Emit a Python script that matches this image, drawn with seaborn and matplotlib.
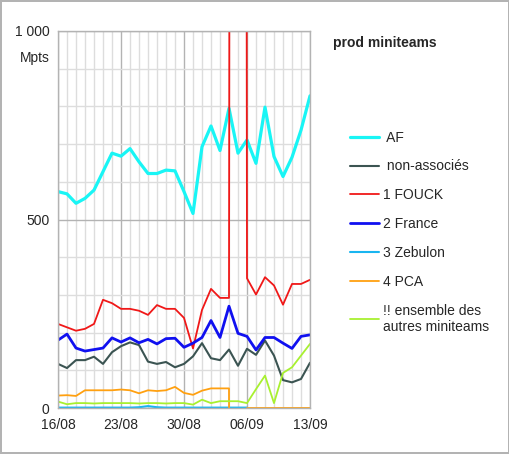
import numpy as np
import pandas as pd
import matplotlib
matplotlib.use("Agg")
import matplotlib.pyplot as plt
from matplotlib.ticker import MultipleLocator, FixedLocator
import seaborn as sns

# Données (une valeur par jour, du 16/08 au 13/09)
jours = list(range(29))
ticks_x = [0, 7, 14, 21, 28]
labels_x = ["16/08", "23/08", "30/08", "06/09", "13/09"]

af = [574, 568, 543, 556, 578, 627, 676, 668, 688, 653, 622, 622, 631, 629, 574,
      516, 693, 748, 683, 795, 676, 711, 649, 798, 667, 614, 665, 737, 828]
non_associes = [117, 106, 127, 127, 136, 117, 148, 164, 174, 167, 123, 117, 122, 108, 117,
                137, 172, 132, 127, 155, 112, 157, 141, 179, 139, 74, 68, 77, 120]
fouck = [223, 214, 205, 210, 223, 287, 278, 263, 263, 258, 247, 273, 263, 263, 239,
         158, 260, 316, 292, 292, 20000, 344, 301, 347, 325, 274, 329, 329, 340]
france = [180, 196, 159, 151, 155, 159, 186, 175, 186, 173, 182, 170, 184, 185, 161,
          172, 187, 232, 187, 270, 198, 190, 154, 187, 187, 172, 158, 190, 194]
zebulon = [1, 1, 1, 1, 1, 1, 1, 1, 1, 2, 5, 2, 1, 1, 1,
           1, 1, 1, 1, 1, 1, 1]
pca = [33, 34, 32, 47, 47, 47, 47, 49, 47, 39, 47, 45, 47, 56, 40,
       35, 46, 52, 52, 52, -20000, 0, 0, 0, 0, 0, 0, 0, 0]
autres = [17, 10, 13, 13, 12, 13, 13, 13, 13, 12, 13, 13, 12, 13, 13,
          9, 22, 13, 18, 18, 18, 13, 50, 86, 13, 93, 108, 139, 170]

series = [
    (" AF", af, "#19f5f5", 2.3),
    (" non-associés", non_associes, "#3b5452", 1.5),
    ("1 FOUCK", fouck, "#f01818", 1.3),
    ("2 France", france, "#1010f0", 2.0),
    ("3 Zebulon", zebulon, "#19b5f0", 1.5),
    ("4 PCA", pca, "#ffa010", 1.3),
    ("!! ensemble des\nautres miniteams", autres, "#a8f030", 1.3),
]

sns.set_style("white")
plt.rcParams["font.family"] = ["Liberation Sans", "DejaVu Sans"]
plt.rcParams["font.size"] = 10

fig = plt.figure(figsize=(5.1, 4.54), dpi=100)
ax = fig.add_axes([58 / 510, 1 - 408 / 454, 252 / 510, 377 / 454])

for nom, valeurs, couleur, lw in series:
    sns.lineplot(x=jours[:len(valeurs)], y=valeurs, ax=ax, color=couleur,
                 linewidth=lw, label=nom, estimator=None, sort=False)

ax.set_xlim(0, 28)
ax.set_ylim(0, 1000)
ax.xaxis.set_major_locator(FixedLocator(ticks_x))
ax.set_xticklabels(labels_x)
ax.xaxis.set_minor_locator(MultipleLocator(1))
ax.yaxis.set_major_locator(FixedLocator([0, 500, 1000]))
ax.set_yticklabels(["0", "500", "1 000"])
ax.yaxis.set_minor_locator(MultipleLocator(100))

ax.grid(which="major", color="#b3b3b3", linewidth=1.0)
ax.grid(which="minor", color="#dddddd", linewidth=1.0)
ax.set_axisbelow(True)
for sp in ax.spines.values():
    sp.set_color("#b3b3b3")
    sp.set_linewidth(1.0)
ax.tick_params(which="major", length=4, color="#b3b3b3", pad=2, labelsize=10)
ax.tick_params(which="minor", length=0)
ax.tick_params(axis="x", pad=3)
ax.set_xlabel("")
ax.set_ylabel("")

fig.text(35 / 510, 1 - 58 / 454, "Mpts", ha="center", va="center", fontsize=10)
fig.text(333 / 510, 1 - 43 / 454, "prod miniteams", ha="left", va="center",
         fontsize=10, fontweight="bold")

ax.legend_.remove()
handles, labels = ax.get_legend_handles_labels()
fig.legend(handles, labels, loc="upper left", bbox_to_anchor=(344.5 / 510, 1 - 125 / 454),
           frameon=False, handlelength=2.1, handletextpad=0.3, labelspacing=1.07,
           fontsize=10, borderaxespad=0)

fig.patch.set_edgecolor("#b3b3b3")
fig.patch.set_linewidth(1.5)

fig.savefig("out.png", dpi=100, edgecolor=fig.get_edgecolor())
